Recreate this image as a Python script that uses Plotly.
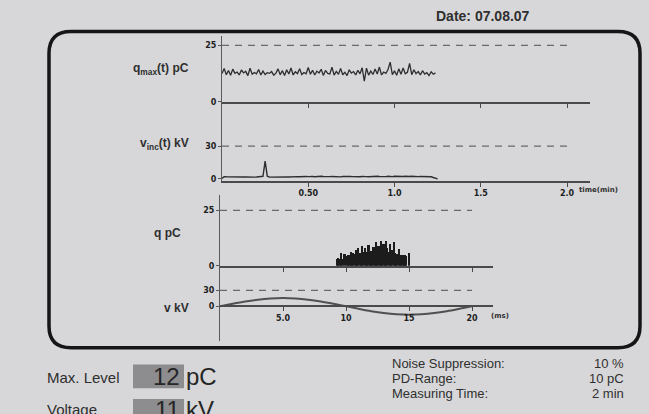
import plotly.graph_objects as go

W, H = 649, 414

# ---------------- data ----------------
QMAX_T0, QMAX_DT = 0.0, 0.0125   # min
qmax_pc = [12.5, 14.8, 12.0, 13.9, 11.8, 14.5, 12.6, 13.2, 11.9, 14.1,
           12.8, 13.5, 11.6, 14.9, 12.2, 13.0, 12.4, 14.3, 11.9, 13.6,
           12.1, 12.9, 12.6, 13.4, 11.8, 12.7, 14.6, 12.0, 13.8, 11.7,
           14.2, 12.3, 15.0, 11.9, 13.3, 12.5, 14.7, 12.1, 13.0, 12.4,
           15.2, 12.2, 14.0, 11.9, 13.6, 12.8, 14.4, 11.7, 13.9, 12.6,
           12.3, 15.3, 11.8, 13.5, 12.2, 14.8, 12.0, 13.1, 11.6, 14.2,
           12.7, 13.4, 11.9, 14.0, 12.4, 15.1, 9.2, 14.9, 11.8, 13.6,
           12.1, 14.5, 12.3, 15.4, 11.9, 13.2, 12.6, 14.3, 17.6, 12.0,
           13.7, 11.8, 14.6, 12.2, 15.0, 12.4, 13.1, 17.0, 12.0, 14.2,
           12.5, 13.4, 11.9, 13.8, 12.3, 12.9, 11.6, 13.3, 12.2, 12.8]

VINC_T0, VINC_DT = 0.0, 0.0125   # min
vinc_kv = [0.4, 2.0, 1.9, 1.8, 1.7, 1.8, 1.9, 1.7, 1.6, 1.8,
           1.7, 1.8, 1.6, 1.7, 1.8, 1.6, 1.7, 1.8, 1.7, 2.3,
           16.2, 2.4, 1.6, 1.7, 1.8, 1.6, 1.9, 1.7, 1.8, 2.0,
           1.8, 1.7, 1.9, 2.1, 1.8, 2.0, 1.9, 2.2, 1.9, 2.1,
           2.0, 2.3, 2.1, 1.9, 2.2, 2.0, 2.3, 2.1, 1.9, 2.2,
           2.0, 2.1, 1.9, 2.2, 2.0, 1.8, 2.1, 1.9, 2.0, 2.2,
           2.1, 1.9, 2.0, 2.2, 1.9, 2.1, 2.3, 2.0, 1.9, 2.1,
           2.2, 2.0, 2.3, 2.1, 1.9, 2.2, 2.0, 2.4, 2.1, 2.0,
           2.3, 2.1, 2.2, 1.9, 2.1, 2.3, 2.0, 2.2, 2.4, 2.1,
           2.3, 2.0, 2.2, 2.1, 2.3, 2.0, 2.2, 1.9, 1.2, 0.3,
           0.0]

Q_T0, Q_DT = 9.3, 0.1   # ms
q_pc = [3.2, 3.5, 3.4, 6.0, 3.0, 0.0, 5.5, 0.0, 4.8, 5.2,
        5.0, 6.5, 5.4, 5.8, 5.3, 7.5, 5.6, 8.2, 6.0, 5.7,
        9.0, 6.2, 8.0, 5.9, 6.3, 9.5, 6.1, 7.0, 5.8, 8.5,
        6.4, 10.8, 7.2, 9.0, 6.5, 11.2, 7.0, 9.8, 6.8, 11.5,
        8.0, 6.3, 10.2, 6.6, 7.4, 11.0, 6.0, 5.2, 5.6, 7.8,
        5.0, 4.8, 5.1, 4.6, 4.9, 4.5, 0.0, 6.0, 0.0]

v_ms = [0, 1, 2, 3, 4, 5, 6, 7, 8, 9, 10, 11, 12, 13, 14, 15, 16, 17, 18, 19, 20]
v_kv = [0, 4.8, 9.1, 12.5, 14.7, 15.5, 14.7, 12.5, 9.1, 4.8, 0,
        -4.9, -9.4, -12.9, -15.2, -16.0, -15.2, -12.9, -9.4, -4.9, 0]

qmax_limit = 25
vinc_limit = 30
q_limit = 25
v_limit = 30

time_ticks = [0.5, 1.0, 1.5, 2.0]
time_ticktext = ["0.50", "1.0", "1.5", "2.0"]
ms_ticks = [5, 10, 15, 20]
ms_ticktext = ["5.0", "10", "15", "20"]

qmax_t = [QMAX_T0 + i * QMAX_DT for i in range(len(qmax_pc))]
vinc_t = [VINC_T0 + i * VINC_DT for i in range(len(vinc_kv))]
q_t = [round(Q_T0 + i * Q_DT, 3) for i in range(len(q_pc))]


def px(x):
    return x / W


def py(y):
    return 1 - y / H


INK = "#2e2e2e"
AX = "#4a4a4a"
DASH = "#6a6a6a"
BG = "#d7d7d9"

fig = go.Figure()

# upper block
fig.add_trace(go.Scatter(x=qmax_t, y=qmax_pc, mode="lines", xaxis="x", yaxis="y",
                         line=dict(color=INK, width=1.3)))
fig.add_trace(go.Scatter(x=[0, 2.0], y=[qmax_limit] * 2, mode="lines", xaxis="x", yaxis="y",
                         line=dict(color=DASH, width=1.3, dash="7px,6px")))
fig.add_trace(go.Scatter(x=vinc_t, y=vinc_kv, mode="lines", xaxis="x2", yaxis="y2",
                         line=dict(color=INK, width=1.4)))
fig.add_trace(go.Scatter(x=[0, 2.0], y=[vinc_limit] * 2, mode="lines", xaxis="x2", yaxis="y2",
                         line=dict(color=DASH, width=1.3, dash="7px,6px")))
# lower block
fig.add_trace(go.Bar(x=q_t, y=q_pc, xaxis="x3", yaxis="y3", width=0.13,
                     marker=dict(color="#1c1c1c", line=dict(width=0))))
fig.add_trace(go.Scatter(x=[0, 20], y=[q_limit] * 2, mode="lines", xaxis="x3", yaxis="y3",
                         line=dict(color=DASH, width=1.3, dash="7px,6px")))
fig.add_trace(go.Scatter(x=v_ms, y=v_kv, mode="lines", xaxis="x4", yaxis="y4",
                         line=dict(color="#505050", width=2, shape="spline")))
fig.add_trace(go.Scatter(x=[0, 20], y=[v_limit] * 2, mode="lines", xaxis="x4", yaxis="y4",
                         line=dict(color=DASH, width=1.3, dash="7px,6px")))

tickfont = dict(family="DejaVu Sans", size=8, color="#1e1e1e", weight="bold")
common_x = dict(showgrid=False, zeroline=False, showline=True, linecolor=AX, linewidth=1.8,
                ticks="outside", ticklen=4, tickcolor=AX, tickwidth=1, tickfont=tickfont,
                fixedrange=True)
common_y = dict(showgrid=False, zeroline=False, showline=True, linecolor="#5a5a5a", linewidth=1,
                ticks="outside", ticklen=3, tickcolor="#5a5a5a", tickfont=tickfont,
                fixedrange=True)

t_max = (590 - 222) / 172.5
ms_max = (493 - 220) / 12.6

fig.update_layout(
    width=W, height=H, margin=dict(l=0, r=0, t=0, b=0),
    paper_bgcolor=BG, plot_bgcolor="rgba(0,0,0,0)", showlegend=False, bargap=0,
    xaxis=dict(common_x, domain=[px(222), px(590)], range=[0, t_max], anchor="y",
               tickvals=time_ticks, showticklabels=False),
    yaxis=dict(common_y, domain=[py(103), py(36)], range=[0, (103 - 36) / 2.28], anchor="x",
               tickvals=[0, 25], ticktext=["0", "25"]),
    xaxis2=dict(common_x, domain=[px(222), px(590)], range=[0, t_max], anchor="y2",
                tickvals=time_ticks, ticktext=time_ticktext),
    yaxis2=dict(common_y, domain=[py(183), py(103)], range=[-2 / 1.1, (181 - 103) / 1.1], anchor="x2",
                tickvals=[0, 30], ticktext=["0", "30"]),
    xaxis3=dict(common_x, domain=[px(220), px(493)], range=[0, ms_max], anchor="y3",
                tickvals=ms_ticks, showticklabels=False),
    yaxis3=dict(common_y, domain=[py(269), py(197)], range=[0, (269 - 197) / 2.24], anchor="x3",
                tickvals=[0, 25], ticktext=["0", "25"]),
    xaxis4=dict(common_x, domain=[px(220), px(493)], range=[0, ms_max], anchor="free",
                position=py(310), tickvals=ms_ticks, ticktext=ms_ticktext),
    yaxis4=dict(common_y, domain=[py(345), py(269)], range=[-(345 - 310) / 0.533, (310 - 269) / 0.533],
                anchor="x4", tickvals=[0, 30], ticktext=["0", "30"]),
)

# rounded frame
x0, y0, x1, y1 = 49, 32, 640, 352
r = 22
pts = lambda a, b: f"{px(a):.5f},{py(b):.5f}"
path = (f"M {pts(x0 + r, y0)} L {pts(x1 - r, y0)} Q {pts(x1, y0)} {pts(x1, y0 + r)} "
        f"L {pts(x1, y1 - r)} Q {pts(x1, y1)} {pts(x1 - r, y1)} "
        f"L {pts(x0 + r, y1)} Q {pts(x0, y1)} {pts(x0, y1 - r)} "
        f"L {pts(x0, y0 + r)} Q {pts(x0, y0)} {pts(x0 + r, y0)} Z")
shapes = [dict(type="path", xref="paper", yref="paper", path=path,
               line=dict(color="#161616", width=3.5), fillcolor="rgba(0,0,0,0)")]
# value boxes
for (bx0, by0, bx1, by1) in [(133, 369, 184, 393), (133, 404, 184, 420)]:
    shapes.append(dict(type="rect", xref="paper", yref="paper",
                       x0=px(bx0), x1=px(bx1), y0=py(by1), y1=py(by0),
                       fillcolor="#8d8d8f", line=dict(width=0)))
fig.update_layout(shapes=shapes)

ann = []


def text(x, y, s, size=12, anchor="left", bold=False, family="Liberation Sans", color="#2f2f2f"):
    ann.append(dict(x=px(x), y=py(y), xref="paper", yref="paper", text=s, showarrow=False,
                    xanchor=anchor, yanchor="middle",
                    font=dict(family=family, size=size, color=color,
                              weight="bold" if bold else "normal")))


text(191, 70, "q<sub>max</sub>(t) pC", 12, "right", True)
text(191, 146, "v<sub>inc</sub>(t) kV", 12, "right", True)
text(183, 236, "q pC", 12, "right", True)
text(191, 312, "v kV", 12, "right", True)
text(577, 192, "time(min)", 7, "left", True, "DejaVu Sans")
text(489, 320, "(ms)", 7, "left", True, "DejaVu Sans")
text(483, 16, "Date: 07.08.07", 14, "center", True)

text(45, 382, "Max. Level", 15)
text(182, 381, "12", 24, "right", False, "Liberation Sans", "#262626")
text(184, 381, "pC", 24, "left", False, "Liberation Sans", "#262626")
text(45, 415, "Voltage", 15)
text(182, 414, "11", 24, "right", False, "Liberation Sans", "#262626")
text(184, 414, "kV", 24, "left", False, "Liberation Sans", "#262626")

text(390, 368, "Noise Suppression:", 13)
text(390, 383, "PD-Range:", 13)
text(390, 398, "Measuring Time:", 13)
text(626, 368, "10 %", 13, "right")
text(626, 383, "10 pC", 13, "right")
text(626, 398, "2 min", 13, "right")

fig.update_layout(annotations=ann)

fig.write_html("out.html")
